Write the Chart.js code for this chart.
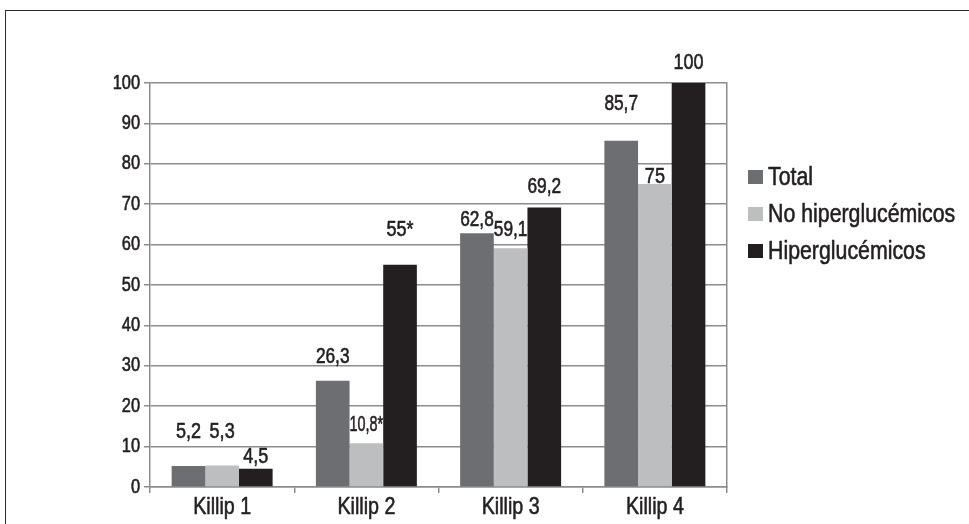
<!DOCTYPE html>
<html>
<head>
<meta charset="utf-8">
<script src="https://cdn.jsdelivr.net/npm/chart.js@4.4.1/dist/chart.umd.min.js"></script>
<style>
  html, body { margin: 0; padding: 0; background: #ffffff; overflow: hidden; }
  #frame { position: absolute; left: 5px; top: 10px; width: 1100px; height: 700px;
           border: 1.5px solid #2b2b2b; box-sizing: border-box; }
  #wrap { position: absolute; left: 0; top: 0; width: 969px; height: 524px; }
</style>
</head>
<body>
<div id="frame"></div>
<div id="wrap"><canvas id="chart" width="969" height="524"></canvas></div>
<script>
// Categories (Killip class) and the three series, in percent
const categories = ['Killip 1', 'Killip 2', 'Killip 3', 'Killip 4'];
const seriesNames = ['Total', 'No hiperglucémicos', 'Hiperglucémicos'];
const totalValues = [5.2, 26.3, 62.8, 85.7];
const noHiperValues = [5.3, 10.8, 59.1, 75];
const hiperValues = [4.5, 55, 69.2, 100];
// Value labels as printed over the bars (asterisk = significant difference)
const totalLabels = ['5,2', '26,3', '62,8', '85,7'];
const noHiperLabels = ['5,3', '10,8*', '59,1', '75'];
const hiperLabels = ['4,5', '55*', '69,2', '100'];
// Y-axis ticks
const yTicks = [0, 10, 20, 30, 40, 50, 60, 70, 80, 90, 100];

// Styling
const FONT = "'Liberation Sans', Arial, sans-serif";
const CONDENSE = 0.82;           // horizontal squeeze giving a narrow typeface
const TEXT_WEIGHT = 0.6;         // extra stroke to thicken the letterforms
const INK = '#231f20';
const GRID = '#8c8c8c';
const colors = ['#6d6e71', '#bcbec0', '#231f20'];
// how far (px) each value label sits above its bar top
const labelLift = [
  [34, 24, 13, 37],
  [34, 18, 18, 7],
  [12, 35, 20, 20]
];

const labelSets = [totalLabels, noHiperLabels, hiperLabels];
const seriesValues = [totalValues, noHiperValues, hiperValues];

// Draw all canvas text horizontally condensed around its anchor point
const condensedText = {
  id: 'condensedText',
  beforeInit(chart) {
    const ctx = chart.ctx;
    const fill = ctx.fillText.bind(ctx);
    const stroke = ctx.strokeText.bind(ctx);
    ctx.fillText = function (text, x, y, maxWidth) {
      let sx = CONDENSE;
      const w = this.measureText(text).width;
      if (maxWidth && w * sx > maxWidth) sx = maxWidth / w;
      this.save();
      this.translate(x, y);
      this.scale(sx, 1);
      fill(text, 0, 0);
      this.strokeStyle = this.fillStyle;
      this.lineWidth = TEXT_WEIGHT;
      this.lineJoin = 'round';
      this.setLineDash([]);
      stroke(text, 0, 0);
      this.restore();
    };
  }
};

const valueLabels = {
  id: 'valueLabels',
  afterDatasetsDraw(chart) {
    const ctx = chart.ctx;
    ctx.save();
    ctx.fillStyle = INK;
    ctx.font = '22px ' + FONT;
    ctx.textAlign = 'center';
    ctx.textBaseline = 'middle';
    chart.data.datasets.forEach((ds, i) => {
      const meta = chart.getDatasetMeta(i);
      meta.data.forEach((bar, j) => {
        ctx.fillText(labelSets[i][j], bar.x, bar.y - labelLift[i][j], bar.width);
      });
    });
    ctx.restore();
  }
};

const sideLegend = {
  id: 'sideLegend',
  afterDraw(chart) {
    const ctx = chart.ctx;
    const area = chart.chartArea;
    const x = area.right + 21;
    ctx.save();
    ctx.font = '26px ' + FONT;
    ctx.textBaseline = 'middle';
    ctx.textAlign = 'left';
    chart.data.datasets.forEach((ds, i) => {
      const cy = area.top + 94 + i * 37;
      ctx.fillStyle = ds.backgroundColor;
      ctx.fillRect(x, cy - 7, 15, 14);
      ctx.fillStyle = INK;
      ctx.fillText(ds.label, x + 20, cy + 1);
    });
    ctx.restore();
  }
};

new Chart(document.getElementById('chart'), {
  type: 'bar',
  data: {
    labels: categories,
    datasets: seriesNames.map((name, i) => ({
      label: name,
      data: seriesValues[i],
      backgroundColor: colors[i],
      borderWidth: 0,
      categoryPercentage: 0.7,
      barPercentage: 1.0
    }))
  },
  options: {
    responsive: false,
    animation: false,
    devicePixelRatio: 1,
    layout: { padding: { top: 83, right: 242, bottom: 0, left: 0 } },
    plugins: { legend: { display: false }, tooltip: { enabled: false } },
    scales: {
      x: {
        grid: { display: true, drawOnChartArea: false, offset: true, color: GRID, lineWidth: 1.5, tickLength: 6 },
        border: { display: true, color: GRID, width: 1.5 },
        ticks: { color: INK, font: { family: FONT, size: 24 }, padding: 0 },
        afterFit(s) { s.height = 37; }
      },
      y: {
        min: 0, max: 100,
        afterBuildTicks(s) { s.ticks = yTicks.map(v => ({ value: v })); },
        grid: { color: GRID, lineWidth: 1.5, tickLength: 6 },
        border: { display: true, color: GRID, width: 1.5 },
        ticks: { color: INK, font: { family: FONT, size: 20 }, padding: 4 },
        afterFit(s) { s.width = 150; }
      },
      y2: {
        position: 'right',
        min: 0, max: 100,
        grid: { display: false },
        ticks: { display: false },
        border: { display: true, color: GRID, width: 1.5 },
        afterFit(s) { s.width = 0; }
      }
    }
  },
  plugins: [condensedText, valueLabels, sideLegend]
});
</script>
</body>
</html>
